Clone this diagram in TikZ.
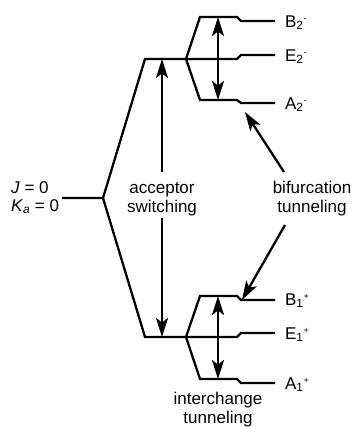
\documentclass[tikz,border=0pt]{standalone}
\usepackage{fontspec}
\setmainfont{Liberation Sans}
\usetikzlibrary{arrows.meta}
\newcommand\lvlname[3]{#1\textsubscript{#2}\raisebox{5.5bp}{\fontsize{9bp}{9bp}\selectfont#3}}
\begin{document}
\begin{tikzpicture}[x=1bp,y=-1bp,line width=2.3bp,
  tip/.tip={Stealth[length=19bp,width=12bp,inset=4.5bp]},
  arr/.style={-tip},
  darr/.style={tip-tip},
  lab/.style={inner sep=0pt,font=\fontsize{17bp}{19bp}\selectfont},
  ]
\useasboundingbox (0,0) rectangle (359,427);
% skeleton
\coordinate (root) at (62,198);
\coordinate (fork) at (103,198);
\coordinate (up) at (145,59);
\coordinate (ufork) at (186,59);
\coordinate (dn) at (145,337);
\coordinate (dfork) at (186,337);
% upper group
\coordinate (b2a) at (200,17);  \coordinate (b2b) at (237,17);  \coordinate (b2c) at (241,21);  \coordinate (b2d) at (275,21);
\coordinate (e2b) at (237,59);  \coordinate (e2c) at (241,55);  \coordinate (e2d) at (275,55);
\coordinate (a2a) at (200,100); \coordinate (a2b) at (237,100); \coordinate (a2c) at (241,103); \coordinate (a2d) at (275,103);
% lower group
\coordinate (b1a) at (200,296); \coordinate (b1b) at (237,296); \coordinate (b1c) at (241,300); \coordinate (b1d) at (275,300);
\coordinate (e1b) at (237,337); \coordinate (e1c) at (241,333); \coordinate (e1d) at (275,333);
\coordinate (a1a) at (200,379); \coordinate (a1b) at (237,379); \coordinate (a1c) at (241,383); \coordinate (a1d) at (275,383);

\draw (root) -- (fork) -- (up) -- (ufork);
\draw (fork) -- (dn) -- (dfork);
\draw (ufork) -- (b2a) -- (b2b) -- (b2c) -- (b2d);
\draw (ufork) -- (e2b) -- (e2c) -- (e2d);
\draw (ufork) -- (a2a) -- (a2b) -- (a2c) -- (a2d);
\draw (dfork) -- (b1a) -- (b1b) -- (b1c) -- (b1d);
\draw (dfork) -- (e1b) -- (e1c) -- (e1d);
\draw (dfork) -- (a1a) -- (a1b) -- (a1c) -- (a1d);

% level labels
\node[lab,anchor=base west] (B2) at (284,27) {\lvlname{B}{2}{-}};
\node[lab,anchor=base west] (E2) at (284,61) {\lvlname{E}{2}{-}};
\node[lab,anchor=base west] (A2) at (284,109) {\lvlname{A}{2}{-}};
\node[lab,anchor=base west] (B1) at (284,305) {\lvlname{B}{1}{+}};
\node[lab,anchor=base west] (E1) at (284,339) {\lvlname{E}{1}{+}};
\node[lab,anchor=base west] (A1) at (284,389) {\lvlname{A}{1}{+}};

% left labels
\node[lab,anchor=base west] (J) at (10,193) {\textit{J} = 0};
\node[lab,anchor=base west] (K) at (10,211) {\textit{K}\textsubscript{\textit{a}} = 0};

% text labels (base = last line)
\node[lab,align=center,anchor=base] (acc) at (162,212) {acceptor\\switching};
\node[lab,align=center,anchor=base] (bif) at (312,212) {bifurcation\\tunneling};
\node[lab,align=center,anchor=base] (inter) at (218,423) {interchange\\tunneling};

% arrows
\coordinate (accT) at (162,172);
\coordinate (accB) at (162,218);
\coordinate (accUp) at (162,59);
\coordinate (accDn) at (162,337);
\draw[arr] (accT) -- (accUp);
\draw[arr] (accB) -- (accDn);
\coordinate (dT1) at (218,17);  \coordinate (dT2) at (218,100);
\coordinate (dB1) at (218,296); \coordinate (dB2) at (218,379);
\draw[darr] (dT1) -- (dT2);
\draw[darr] (dB1) -- (dB2);
\coordinate (bifT) at (284,172); \coordinate (bifTt) at (245,112);
\coordinate (bifB) at (285,225); \coordinate (bifBt) at (242,300);
\draw[arr] (bifT) -- (bifTt);
\draw[arr] (bifB) -- (bifBt);
\end{tikzpicture}
\end{document}
